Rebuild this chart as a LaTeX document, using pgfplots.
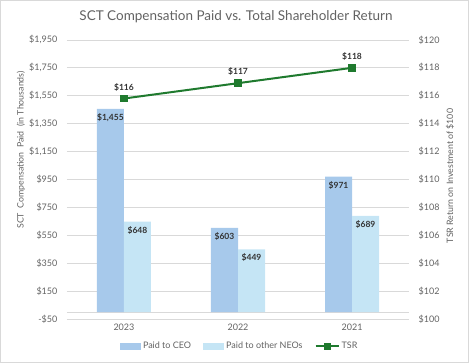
\documentclass[border=0pt]{standalone}
\usepackage{fontspec}
\setmainfont{Lato}
\usepackage{pgfplots}
\pgfplotsset{compat=1.18}
\definecolor{ceo}{HTML}{A7C9EB}
\definecolor{neo}{HTML}{C5E5F5}
\definecolor{tsr}{HTML}{1F7A2E}
\definecolor{tick}{HTML}{626262}
\definecolor{lbl}{HTML}{333333}
\definecolor{gridc}{HTML}{D9D9D9}
\begin{document}
\begin{tikzpicture}[x=1pt,y=1pt]
\draw[gridc, line width=0.8pt] (0.5,0.5) rectangle (468.5,362.5);
\node[font=\fontsize{13.5}{15}\selectfont, text=tick] at (236,346) {SCT Compensation Paid vs. Total Shareholder Return};
\node[font=\fontsize{8.8}{10}\selectfont, text=tick, rotate=90] at (21,213) {SCT\ \ Compensation\ \ Paid\ \ (in Thousands)};
\node[font=\fontsize{8.8}{10}\selectfont, text=tick, rotate=90] at (450,187) {TSR Return on Investment of \$100};
\begin{axis}[
  at={(67pt,44pt)}, anchor=south west, scale only axis,
  width=342pt, height=279pt,
  xmin=-0.5, xmax=2.5, ymin=-50, ymax=1950,
  axis line style={draw=none}, major tick length=0pt,
  xtick={0,1,2}, xticklabels={2023,2022,2021},
  ytick={-50,150,...,1950},
  yticklabels={{-\$50},{\$150},{\$350},{\$550},{\$750},{\$950},{\$1,150},{\$1,350},{\$1,550},{\$1,750},{\$1,950}},
  ymajorgrids, grid style={gridc, line width=0.7pt},
  extra y ticks={0}, extra y tick labels={},
  extra y tick style={grid style={gridc, line width=0.7pt}},
  tick label style={font=\fontsize{9}{10}\selectfont, text=tick},
  yticklabel style={xshift=-6pt},
  xticklabel style={yshift=-1pt},
  ybar=0pt, bar width=27pt,
  nodes near coords, point meta=explicit symbolic,
  every node near coord/.append style={font=\fontsize{8.5}{9}\selectfont\bfseries, text=lbl, yshift=-16pt},
  legend columns=3,
  legend style={at={(0.505,-0.097)}, anchor=center, draw=none, fill=none,
    font=\fontsize{9}{10}\selectfont, text=tick,
    /tikz/every even column/.append style={column sep=10pt}},
  area legend,
]
\addplot[fill=ceo, draw=none, legend image code/.code={\fill[ceo] (0pt,-3.5pt) rectangle (21pt,3.5pt);}] coordinates {(0,1455) [{\$1,455}] (1,603) [{\$603}] (2,971) [{\$971}]};
\addlegendentry{Paid to CEO}
\addplot[fill=neo, draw=none, legend image code/.code={\fill[neo] (0pt,-3.5pt) rectangle (21pt,3.5pt);}] coordinates {(0,648) [{\$648}] (1,449) [{\$449}] (2,689) [{\$689}]};
\addlegendentry{Paid to other NEOs}
\addlegendimage{legend image code/.code={\draw[tsr, line width=2pt] (0pt,0pt) -- (23pt,0pt); \fill[tsr] (8.5pt,-3pt) rectangle (14.5pt,3pt);}}
\addlegendentry{TSR}
\end{axis}
\begin{axis}[
  at={(67pt,44pt)}, anchor=south west, scale only axis,
  width=342pt, height=279pt,
  xmin=-0.5, xmax=2.5, ymin=100, ymax=120,
  axis x line=none, axis y line*=right,
  axis line style={draw=none}, major tick length=0pt,
  ytick={100,102,...,120},
  yticklabels={\$100,\$102,\$104,\$106,\$108,\$110,\$112,\$114,\$116,\$118,\$120},
  tick label style={font=\fontsize{9}{10}\selectfont, text=tick},
  yticklabel style={xshift=6pt},
]
\addplot[tsr, line width=2pt, mark=square*, mark size=2.8pt,
  nodes near coords, point meta=explicit symbolic,
  every node near coord/.append style={font=\fontsize{8.5}{9}\selectfont\bfseries, text=lbl, yshift=3pt}]
  coordinates {(0,115.8) [\$116] (1,116.9) [\$117] (2,118.0) [\$118]};
\end{axis}
\end{tikzpicture}
\end{document}
